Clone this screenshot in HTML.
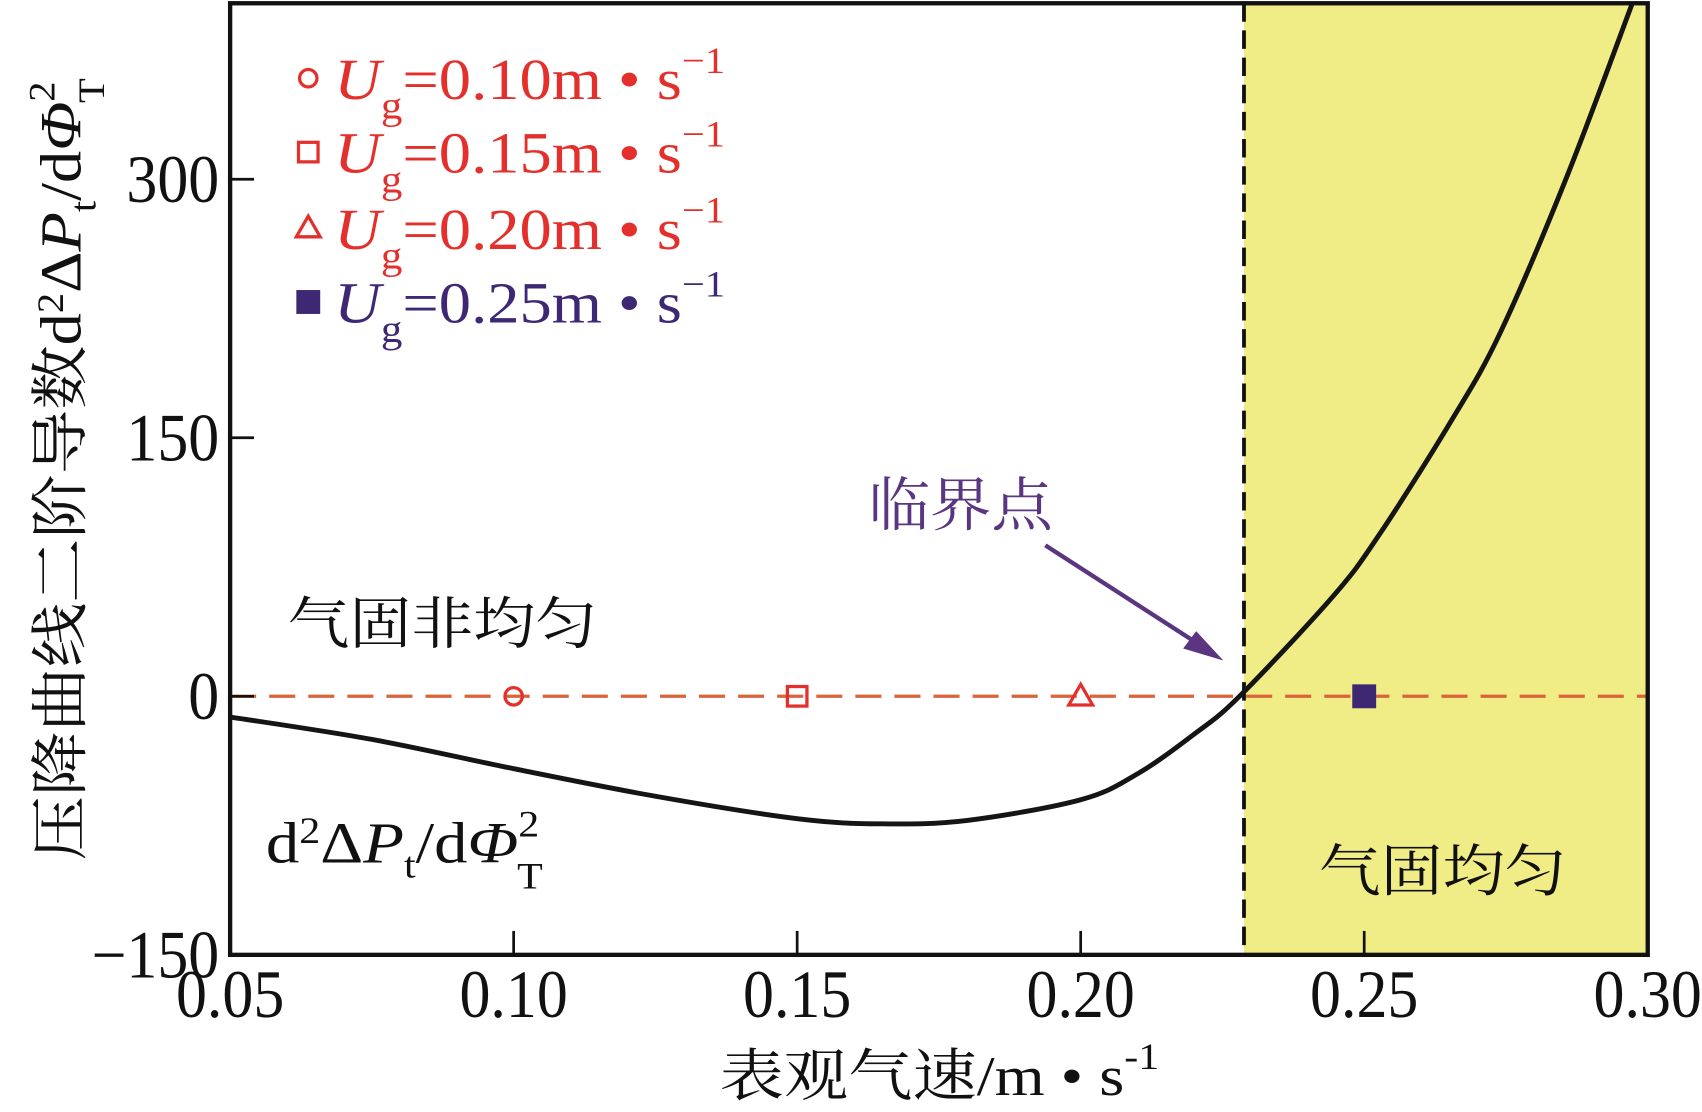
<!DOCTYPE html>
<html><head><meta charset="utf-8"><style>
html,body{margin:0;padding:0;background:#fff;width:1702px;height:1112px;overflow:hidden}
svg{display:block}
text{font-family:"Liberation Serif","Noto Serif CJK SC","Noto Sans CJK SC",serif}
</style></head><body>
<svg width="1702" height="1112" viewBox="0 0 1568 1016" preserveAspectRatio="none" xmlns="http://www.w3.org/2000/svg"><g id="chart" transform="scale(1,0.9925)"></g></svg>
<script>
const xTicks=[0.05,0.10,0.15,0.20,0.25,0.30];
const xTickLabels=["0.05","0.10","0.15","0.20","0.25","0.30"];
const yTicks=[-150,0,150,300];
const yTickLabels=["\u2212150","0","150","300"];
const curveX=[0.05,0.075,0.10,0.125,0.15,0.165,0.18,0.20,0.21,0.22,0.228,0.2445,0.2527,0.2652,0.274,0.2858,0.2975];
const curveY=[-12,-25,-42,-58,-71,-74,-72,-60,-45,-22,0,58,94,159,211,302,404];
const markerX=[0.10,0.15,0.20,0.25];
const markerY=[0,0,0,0];
const legendLabels=["0.10","0.15","0.20","0.25"];
const criticalX=0.2288;

const L=212,R=1518,T=3,B=879;
const xs=v=>L+(v-0.05)/0.25*(R-L);
const ys=v=>641-v*1.5867;
const svg=document.getElementById('chart');
const NS='http://www.w3.org/2000/svg';
function mk(tag,attrs,parent){const e=document.createElementNS(NS,tag);for(const k in attrs)e.setAttribute(k,attrs[k]);(parent||svg).appendChild(e);return e;}

let e=mk('rect',{x:xs(criticalX),y:T,width:R-xs(criticalX),height:B-T,fill:'#f0ec86'});


e=mk('line',{x1:L,x2:R,y1:ys(0),y2:ys(0),stroke:'#d9643a','stroke-width':3,'stroke-dasharray':'24 12'});


e=mk('line',{x1:xs(criticalX),x2:xs(criticalX),y1:T,y2:B,stroke:'#111','stroke-width':3.5,'stroke-dasharray':'17 8'});



const cp=mk('clipPath',{id:'clip'});mk('rect',{x:L,y:T,width:R-L,height:B-T},cp);
const P=curveX.map((x,i)=>[xs(x),ys(curveY[i])]);
let d='M'+P[0][0]+','+P[0][1];
for(let i=0;i<P.length-1;i++){const p0=P[Math.max(0,i-1)],p1=P[i],p2=P[i+1],p3=P[Math.min(P.length-1,i+2)];
d+=` C${p1[0]+(p2[0]-p0[0])/6},${p1[1]+(p2[1]-p0[1])/6} ${p2[0]-(p3[0]-p1[0])/6},${p2[1]-(p3[1]-p1[1])/6} ${p2[0]},${p2[1]}`;}
e=mk('path',{d:d,fill:'none',stroke:'#151515','stroke-width':4.5,'clip-path':'url(#clip)'});



const red='#e3302c',purple='#3e2773';
function marker(i,x,y,parent){let m;
 if(i===0)m=mk('circle',{cx:x,cy:y,r:8,fill:'none',stroke:red,'stroke-width':3},parent);
 else if(i===1)m=mk('rect',{x:x-9,y:y-9,width:18,height:18,fill:'none',stroke:red,'stroke-width':3},parent);
 else if(i===2)m=mk('polygon',{points:`${x},${y-11} ${x+11},${y+8} ${x-11},${y+8}`,fill:'none',stroke:red,'stroke-width':3},parent);
 else m=mk('rect',{x:x-11,y:y-11,width:22,height:22,fill:purple},parent);
 return m;}
markerX.forEach((v,i)=>{const m=marker(i,xs(v),ys(markerY[i]));
 
 });

e=mk('rect',{x:L,y:T,width:R-L,height:B-T,fill:'none',stroke:'#111','stroke-width':4});



xTicks.forEach((v,i)=>{const x=xs(v);
 if(i>0&&i<xTicks.length-1){const t=mk('line',{x1:x,x2:x,y1:B,y2:B-22,stroke:'#111','stroke-width':2.5});
 
 }
 const tx=mk('text',{x:x,y:936,'text-anchor':'middle','font-size':62,fill:'#111',transform:`translate(${x},0) scale(0.92,1) translate(${-x},0)`});tx.textContent=xTickLabels[i];
 
 });
yTicks.forEach((v,i)=>{const y=ys(v);
 if(v>-150){const t=mk('line',{x1:L,x2:L+22,y1:y,y2:y,stroke:'#111','stroke-width':2.5});
 
 }
 const tx=mk('text',{x:202,y:y+21,'text-anchor':'end','font-size':62,fill:'#111',transform:`translate(202,0) scale(0.92,1) translate(-202,0)`});tx.textContent=yTickLabels[i];
 
 });

const legY=[72,140,210,278];
legendLabels.forEach((lab,i)=>{const g=mk('g',{});
 
 
 const c=i===3?purple:red;marker(i,284,legY[i],g);
 const t=mk('text',{x:308,y:legY[i]+19,'font-size':54,fill:c,textLength:360,lengthAdjust:'spacingAndGlyphs'},g);
 t.innerHTML=`<tspan font-style="italic">U</tspan><tspan font-size="36" dy="18">g</tspan><tspan dy="-18">=${lab}m • s</tspan><tspan font-size="34" dy="-24">−1</tspan>`;});

function txt(s,x,y,size,fill,name,extra){const t=mk('text',Object.assign({x:x,y:y,'font-size':size,fill:fill},extra||{}));t.innerHTML=s;
 
 return t;}
txt('气固非均匀',265,592,52,'#111','nonuniform-label',{textLength:285,lengthAdjust:'spacingAndGlyphs'});
txt('气固均匀',1215,820,52,'#111','uniform-label',{textLength:228,lengthAdjust:'spacingAndGlyphs'});
txt('临界点',800,484,54,'#5a3680','critical-point-label',{textLength:170,lengthAdjust:'spacingAndGlyphs'});
txt('d<tspan font-size="34" dy="-18">2</tspan><tspan dy="18">Δ</tspan><tspan font-style="italic">P</tspan><tspan font-size="34" dy="14">t</tspan><tspan dy="-14">/d</tspan><tspan font-style="italic">Φ</tspan><tspan font-size="34" dy="-24">2</tspan><tspan font-size="34" dx="-18" dy="48">T</tspan>',245,794,54,'#111','curve-label',{textLength:255,lengthAdjust:'spacingAndGlyphs'});
e=mk('line',{x1:963,y1:502,x2:1112,y2:598,stroke:'#5a3680','stroke-width':4});


e=mk('polygon',{points:'1127,608 1090,597 1102,581',fill:'#5a3680'});



txt('表观气速/m • s<tspan font-size="34" dy="-24">-1</tspan>',663,1008,52,'#111','x-axis-title',{textLength:405,lengthAdjust:'spacingAndGlyphs'});
txt('压降曲线二阶导数d<tspan font-size="34" dy="-16">2</tspan><tspan dy="16">Δ</tspan><tspan font-style="italic">P</tspan><tspan font-size="34" dy="14">t</tspan><tspan dy="-14">/d</tspan><tspan font-style="italic">Φ</tspan><tspan font-size="34" dy="-24">2</tspan><tspan font-size="34" dx="-18" dy="46">T</tspan>',0,0,54,'#111','y-axis-title',{transform:'translate(74,792) rotate(-90)',textLength:720,lengthAdjust:'spacingAndGlyphs'});
</script>
</body></html>
